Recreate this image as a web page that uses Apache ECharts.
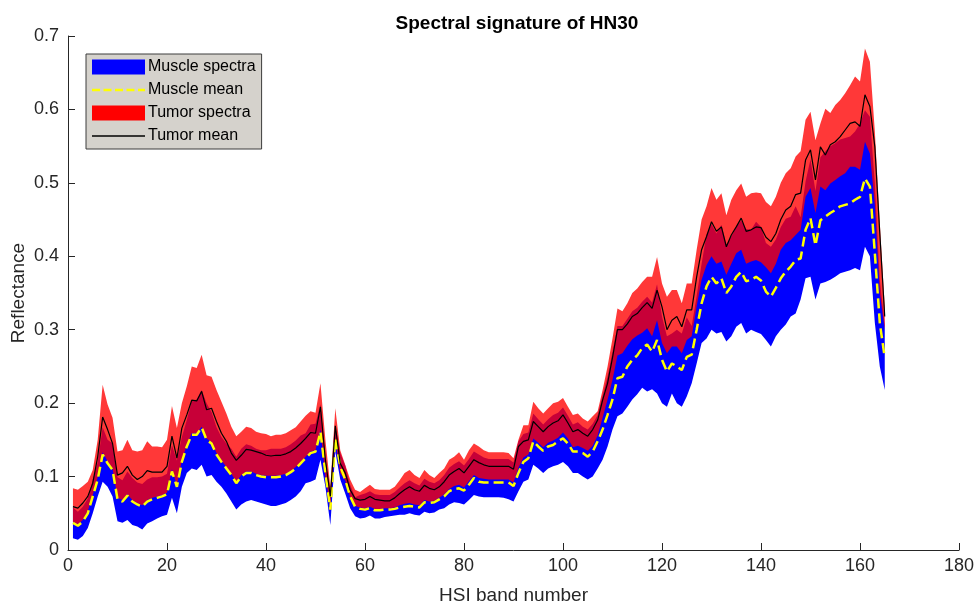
<!DOCTYPE html>
<html>
<head>
<meta charset="utf-8">
<script src="https://cdn.jsdelivr.net/npm/echarts@6/dist/echarts.min.js"></script>
<style>
html,body{margin:0;padding:0;background:#fff;}
#chart{width:976px;height:606px;}
</style>
</head>
<body>
<div id="chart"></div>
<script>
const titleText = 'Spectral signature of HN30';
const xTicks = [0, 20, 40, 60, 80, 100, 120, 140, 160, 180];
const yTicks = [0, 0.1, 0.2, 0.3, 0.4, 0.5, 0.6, 0.7];
const seriesNames = ['Muscle spectra', 'Muscle mean', 'Tumor spectra', 'Tumor mean'];

const bands = Array.from({length: 165}, (_, i) => i + 1);

const muscleMin = [0.016,0.014,0.019,0.030,0.050,0.073,0.093,0.086,0.073,0.039,
0.037,0.041,0.034,0.032,0.028,0.036,0.039,0.043,0.046,0.048,
0.071,0.050,0.086,0.105,0.111,0.109,0.116,0.100,0.102,0.093,
0.086,0.077,0.066,0.055,0.062,0.066,0.068,0.066,0.064,0.062,
0.060,0.060,0.062,0.064,0.068,0.073,0.080,0.091,0.093,0.096,
0.123,0.086,0.034,0.134,0.096,0.077,0.057,0.046,0.043,0.044,
0.047,0.043,0.043,0.045,0.046,0.047,0.048,0.048,0.050,0.048,
0.047,0.052,0.050,0.051,0.055,0.057,0.062,0.065,0.064,0.062,
0.068,0.075,0.073,0.072,0.072,0.072,0.072,0.071,0.069,0.066,
0.080,0.093,0.096,0.116,0.111,0.105,0.111,0.114,0.116,0.120,
0.114,0.105,0.105,0.100,0.096,0.100,0.111,0.123,0.141,0.164,
0.182,0.186,0.195,0.205,0.212,0.221,0.216,0.219,0.213,0.200,
0.195,0.213,0.200,0.195,0.209,0.227,0.254,0.282,0.288,0.300,
0.295,0.297,0.284,0.291,0.304,0.309,0.295,0.300,0.297,0.294,
0.286,0.277,0.291,0.300,0.307,0.318,0.322,0.341,0.370,0.372,
0.341,0.363,0.365,0.368,0.372,0.377,0.379,0.381,0.384,0.381,
0.413,0.400,0.309,0.250,0.218];

const muscleMax = [0.058,0.052,0.059,0.070,0.096,0.119,0.167,0.150,0.145,0.099,
0.095,0.107,0.098,0.092,0.090,0.096,0.099,0.099,0.100,0.104,
0.143,0.122,0.154,0.177,0.203,0.205,0.218,0.200,0.188,0.167,
0.154,0.145,0.138,0.127,0.138,0.144,0.142,0.138,0.136,0.136,
0.138,0.138,0.138,0.140,0.144,0.149,0.156,0.159,0.171,0.172,
0.199,0.124,0.076,0.170,0.132,0.115,0.089,0.072,0.075,0.077,
0.080,0.076,0.075,0.075,0.075,0.079,0.085,0.091,0.095,0.091,
0.088,0.097,0.093,0.091,0.095,0.102,0.112,0.117,0.121,0.115,
0.124,0.134,0.130,0.126,0.124,0.124,0.124,0.124,0.124,0.119,
0.148,0.158,0.160,0.186,0.178,0.171,0.178,0.184,0.187,0.194,
0.183,0.171,0.174,0.168,0.164,0.172,0.184,0.210,0.236,0.270,
0.305,0.305,0.315,0.325,0.330,0.338,0.345,0.337,0.362,0.318,
0.291,0.295,0.300,0.295,0.317,0.305,0.346,0.390,0.430,0.444,
0.431,0.443,0.416,0.427,0.440,0.449,0.437,0.436,0.447,0.440,
0.418,0.413,0.423,0.440,0.451,0.454,0.468,0.453,0.502,0.532,
0.489,0.535,0.543,0.550,0.554,0.559,0.561,0.563,0.570,0.581,
0.599,0.590,0.499,0.368,0.306];

const muscleMean = [0.037,0.033,0.039,0.050,0.073,0.096,0.130,0.118,0.109,0.069,
0.066,0.074,0.066,0.062,0.059,0.066,0.069,0.071,0.073,0.076,
0.107,0.086,0.120,0.141,0.157,0.157,0.167,0.150,0.145,0.130,
0.120,0.111,0.102,0.091,0.100,0.105,0.105,0.102,0.100,0.099,
0.099,0.099,0.100,0.102,0.106,0.111,0.118,0.125,0.132,0.134,
0.161,0.105,0.055,0.152,0.114,0.096,0.073,0.059,0.056,0.055,
0.057,0.054,0.054,0.055,0.055,0.056,0.058,0.059,0.060,0.059,
0.058,0.065,0.064,0.065,0.069,0.073,0.080,0.083,0.084,0.081,
0.089,0.098,0.093,0.092,0.092,0.092,0.092,0.092,0.092,0.087,
0.105,0.120,0.125,0.148,0.141,0.135,0.141,0.143,0.148,0.152,
0.145,0.134,0.134,0.132,0.127,0.134,0.148,0.164,0.184,0.205,
0.234,0.236,0.250,0.259,0.265,0.275,0.280,0.270,0.286,0.259,
0.243,0.254,0.250,0.245,0.263,0.266,0.300,0.336,0.359,0.372,
0.363,0.370,0.350,0.359,0.372,0.379,0.366,0.368,0.372,0.367,
0.352,0.345,0.357,0.370,0.379,0.386,0.395,0.397,0.436,0.452,
0.415,0.449,0.454,0.459,0.463,0.468,0.470,0.472,0.477,0.481,
0.506,0.495,0.404,0.309,0.262];

const tumorMin = [0.038,0.035,0.041,0.053,0.075,0.099,0.133,0.121,0.111,0.071,
0.068,0.076,0.068,0.064,0.061,0.068,0.071,0.073,0.075,0.078,
0.110,0.088,0.122,0.143,0.159,0.159,0.168,0.152,0.147,0.132,
0.122,0.113,0.104,0.093,0.102,0.107,0.107,0.104,0.102,0.101,
0.101,0.101,0.102,0.104,0.108,0.113,0.120,0.127,0.134,0.136,
0.164,0.100,0.058,0.150,0.105,0.095,0.072,0.060,0.058,0.057,
0.059,0.056,0.056,0.057,0.057,0.058,0.061,0.063,0.064,0.062,
0.061,0.068,0.066,0.067,0.071,0.076,0.083,0.087,0.089,0.085,
0.094,0.102,0.098,0.097,0.096,0.096,0.096,0.096,0.096,0.092,
0.112,0.126,0.130,0.152,0.146,0.140,0.146,0.149,0.153,0.160,
0.152,0.140,0.142,0.139,0.135,0.142,0.156,0.180,0.205,0.232,
0.265,0.268,0.278,0.287,0.292,0.296,0.302,0.291,0.313,0.282,
0.268,0.277,0.277,0.268,0.286,0.291,0.332,0.368,0.388,0.400,
0.390,0.393,0.375,0.390,0.404,0.409,0.390,0.393,0.395,0.392,
0.385,0.377,0.390,0.409,0.418,0.422,0.429,0.436,0.481,0.493,
0.459,0.495,0.490,0.499,0.504,0.509,0.513,0.522,0.522,0.518,
0.556,0.540,0.470,0.350,0.300];

const tumorMax = [0.084,0.082,0.087,0.093,0.109,0.150,0.225,0.198,0.180,0.134,
0.136,0.150,0.136,0.134,0.136,0.148,0.141,0.141,0.140,0.150,
0.196,0.166,0.200,0.223,0.250,0.248,0.266,0.238,0.236,0.218,
0.202,0.186,0.168,0.155,0.161,0.168,0.166,0.161,0.159,0.158,
0.155,0.157,0.157,0.159,0.163,0.167,0.175,0.183,0.189,0.187,
0.227,0.150,0.086,0.193,0.136,0.116,0.096,0.082,0.079,0.084,
0.089,0.083,0.082,0.082,0.082,0.086,0.095,0.105,0.109,0.102,
0.098,0.109,0.102,0.098,0.105,0.111,0.123,0.127,0.133,0.123,
0.136,0.145,0.141,0.136,0.133,0.133,0.133,0.133,0.132,0.125,
0.150,0.170,0.170,0.202,0.193,0.186,0.193,0.200,0.202,0.207,
0.195,0.184,0.186,0.179,0.175,0.182,0.189,0.218,0.250,0.288,
0.329,0.325,0.336,0.350,0.356,0.365,0.372,0.372,0.399,0.363,
0.345,0.354,0.354,0.336,0.363,0.363,0.409,0.450,0.468,0.493,
0.477,0.486,0.456,0.477,0.490,0.499,0.481,0.486,0.487,0.486,
0.474,0.468,0.481,0.500,0.513,0.520,0.536,0.543,0.586,0.597,
0.558,0.581,0.601,0.595,0.606,0.613,0.622,0.633,0.645,0.638,
0.683,0.665,0.570,0.445,0.332];

const tumorMean = [0.059,0.057,0.064,0.073,0.091,0.127,0.181,0.164,0.145,0.102,
0.105,0.114,0.102,0.096,0.100,0.108,0.106,0.106,0.106,0.114,
0.155,0.125,0.166,0.184,0.204,0.203,0.216,0.191,0.193,0.175,
0.159,0.148,0.132,0.122,0.129,0.137,0.136,0.134,0.132,0.129,
0.128,0.129,0.129,0.131,0.134,0.139,0.145,0.152,0.160,0.159,
0.195,0.123,0.073,0.169,0.118,0.105,0.082,0.070,0.068,0.069,
0.073,0.069,0.068,0.067,0.067,0.071,0.077,0.082,0.086,0.082,
0.080,0.088,0.084,0.082,0.086,0.093,0.102,0.107,0.111,0.105,
0.114,0.123,0.119,0.116,0.114,0.114,0.114,0.114,0.114,0.110,
0.141,0.148,0.150,0.175,0.168,0.161,0.168,0.173,0.176,0.184,
0.173,0.161,0.164,0.159,0.155,0.164,0.177,0.204,0.227,0.262,
0.300,0.300,0.308,0.318,0.322,0.330,0.337,0.329,0.354,0.331,
0.300,0.313,0.318,0.304,0.327,0.327,0.372,0.409,0.427,0.447,
0.434,0.440,0.413,0.429,0.440,0.452,0.434,0.436,0.440,0.439,
0.426,0.420,0.431,0.450,0.463,0.468,0.484,0.486,0.531,0.545,
0.504,0.549,0.538,0.552,0.556,0.563,0.572,0.581,0.583,0.577,
0.620,0.604,0.549,0.431,0.318];

const FONT = '"Liberation Sans", Arial, Helvetica, sans-serif';
const AXIS_COLOR = '#262626';
const DASH_ICON = 'path://M0,0H8V2.4H0ZM11.5,0H19.5V2.4H11.5ZM23,0H31V2.4H23ZM34.5,0H42.5V2.4H34.5ZM46,0H53V2.4H46Z';
const LINE_ICON = 'path://M0,0H53V1.3H0Z';

function bandSeries(name, lo, hi, fill, legendColor, z) {
  return {
    type: 'custom',
    name: name,
    z: z,
    silent: true,
    clip: true,
    itemStyle: { color: legendColor },
    data: [[bands[0], lo[0]]],
    renderItem: function (params, api) {
      const pts = [];
      for (let i = 0; i < bands.length; i++) pts.push(api.coord([bands[i], hi[i]]));
      for (let i = bands.length - 1; i >= 0; i--) pts.push(api.coord([bands[i], lo[i]]));
      return { type: 'polygon', shape: { points: pts }, style: { fill: fill, stroke: null } };
    }
  };
}

function pairs(vals) { return bands.map((b, i) => [b, vals[i]]); }

const chart = echarts.init(document.getElementById('chart'), null, { renderer: 'canvas' });
chart.setOption({
  animation: false,
  backgroundColor: '#ffffff',
  title: {
    text: titleText,
    left: 512,
    top: 9,
    textAlign: 'center',
    textStyle: { fontFamily: FONT, fontSize: 19, fontWeight: 'bold', color: '#000' }
  },
  grid: { left: 68, right: 17, top: 36, bottom: 56, containLabel: false, outerBoundsMode: 'none' },
  legend: {
    orient: 'vertical',
    left: 86,
    top: 54,
    padding: [5, 6, 5, 6],
    itemWidth: 53,
    itemHeight: 15,
    itemGap: 7,
    symbolKeepAspect: true,
    backgroundColor: '#d5d2cc',
    borderColor: '#3c3c3c',
    borderWidth: 1,
    borderRadius: 0,
    textStyle: { fontFamily: FONT, fontSize: 16, color: '#000', padding: [0, 0, 0, -2] },
    data: [
      { name: seriesNames[0], icon: 'rect', itemStyle: { color: '#0000ff', borderWidth: 0 } },
      { name: seriesNames[1], icon: DASH_ICON, itemStyle: { color: '#ffff00', borderWidth: 0 } },
      { name: seriesNames[2], icon: 'rect', itemStyle: { color: '#ff0000', borderWidth: 0 } },
      { name: seriesNames[3], icon: LINE_ICON, itemStyle: { color: '#000000', borderWidth: 0 } }
    ]
  },
  xAxis: {
    type: 'value',
    min: 0, max: 180, interval: 20,
    name: 'HSI band number',
    nameLocation: 'middle',
    nameGap: 36,
    nameMoveOverlap: false,
    nameTextStyle: { fontFamily: FONT, fontSize: 19, color: AXIS_COLOR },
    axisLine: { show: true, onZero: false, lineStyle: { color: AXIS_COLOR, width: 1 } },
    axisTick: { show: true, inside: true, length: 7, lineStyle: { color: AXIS_COLOR } },
    axisLabel: { fontFamily: FONT, fontSize: 18, color: AXIS_COLOR, margin: 7,
      formatter: v => (xTicks.indexOf(v) >= 0 ? String(v) : '') },
    splitLine: { show: false }
  },
  yAxis: {
    type: 'value',
    min: 0, max: 0.7, interval: 0.1,
    name: 'Reflectance',
    nameLocation: 'middle',
    nameGap: 40,
    nameMoveOverlap: false,
    nameTextStyle: { fontFamily: FONT, fontSize: 19, color: AXIS_COLOR },
    axisLine: { show: true, onZero: false, lineStyle: { color: AXIS_COLOR, width: 1 } },
    axisTick: { show: true, inside: true, length: 7, lineStyle: { color: AXIS_COLOR } },
    axisLabel: { fontFamily: FONT, fontSize: 18, color: AXIS_COLOR, margin: 9,
      formatter: v => {
        const t = yTicks.find(y => Math.abs(y - v) < 1e-9);
        return t === undefined ? '' : String(t);
      } },
    splitLine: { show: false }
  },
  series: [
    bandSeries(seriesNames[0], muscleMin, muscleMax, '#0000ff', '#0000ff', 1),
    bandSeries(seriesNames[2], tumorMin, tumorMax, 'rgba(255,0,0,0.78)', '#ff0000', 2),
    {
      type: 'line',
      name: seriesNames[1],
      z: 3,
      data: pairs(muscleMean),
      symbol: 'none',
      silent: true,
      itemStyle: { color: '#ffff00' },
      lineStyle: { color: '#ffff00', width: 2.5, type: [10, 5] }
    },
    {
      type: 'line',
      name: seriesNames[3],
      z: 4,
      data: pairs(tumorMean),
      symbol: 'none',
      silent: true,
      itemStyle: { color: '#000000' },
      lineStyle: { color: '#000000', width: 1.2 }
    }
  ]
});
</script>
</body>
</html>
